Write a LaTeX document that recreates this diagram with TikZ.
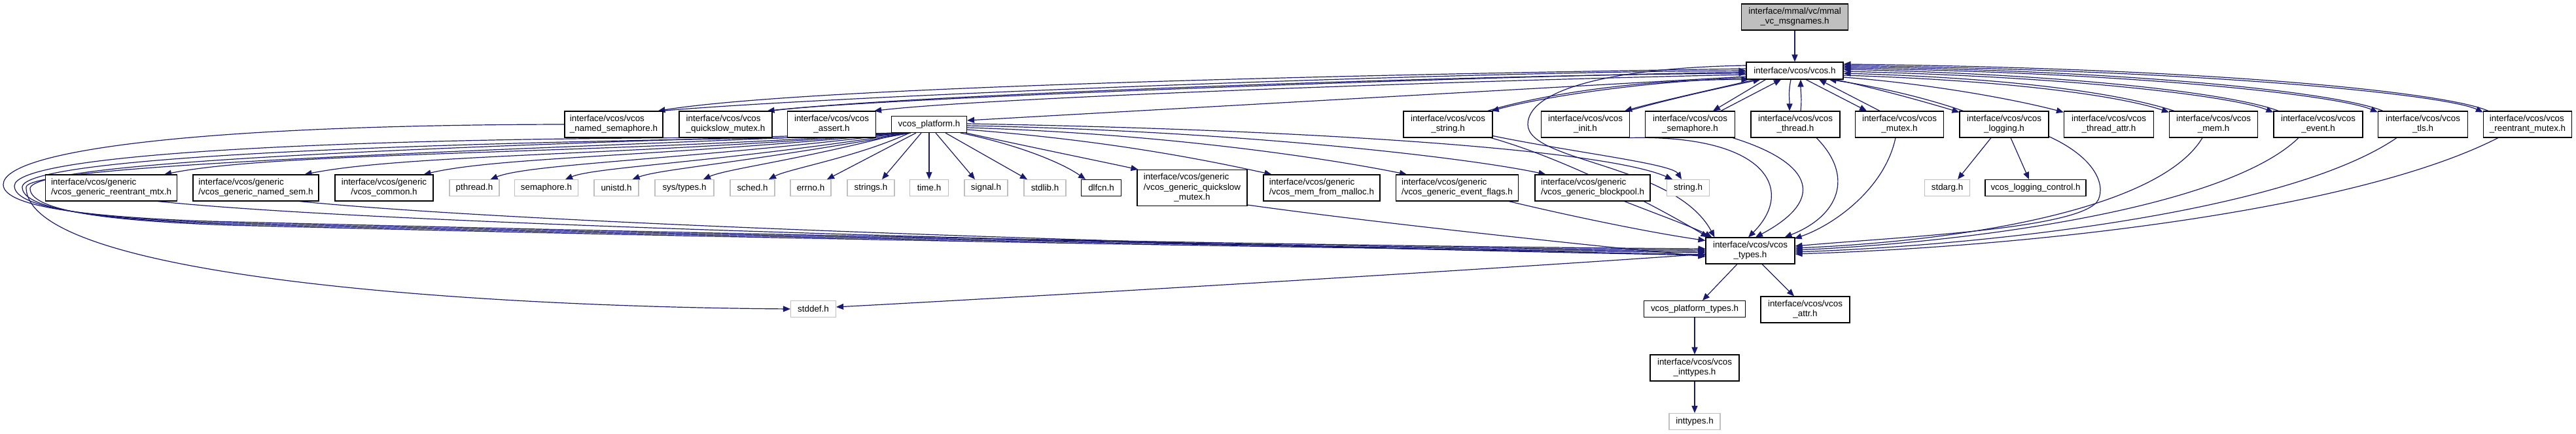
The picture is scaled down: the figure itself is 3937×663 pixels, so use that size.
\documentclass[tikz,border=0pt]{standalone}
\usepackage{fontspec}
\setmainfont{Liberation Sans}
\usetikzlibrary{arrows.meta,calc,backgrounds}
\definecolor{edgeblue}{HTML}{191970}
\definecolor{lightframe}{HTML}{BFBFBF}
\newcommand\fs{\fontsize{13.4pt}{15.3pt}\selectfont}
\newcommand\twoln[2]{\begin{tabular}{@{}l@{}}#1\\\multicolumn{1}{@{}c@{}}{#2}\end{tabular}}
\newcommand\threeln[3]{\begin{tabular}{@{}l@{}}#1\\#2\\\multicolumn{1}{@{}c@{}}{#3}\end{tabular}}
\tikzset{
  nb/.style={draw=black, line width=1.1pt, fill=white, inner sep=0pt, font=\fs, minimum height=40pt},
  one/.style={minimum height=25pt},
  gb/.style={nb, one, draw=lightframe},
  e/.style={draw=edgeblue, line width=1.2pt, -{Triangle[length=11pt,width=9pt]}},
}
\begin{document}
\begin{tikzpicture}[x=1pt,y=-1pt]
\useasboundingbox (0,0) rectangle (3937,663);
% rank 0/1
\node[nb,fill=lightframe,minimum width=163pt] (root) at (2743,26) {\twoln{interface/mmal/vc/mmal}{\_vc\_msgnames.h}};
\node[nb,minimum width=148pt,minimum height=26pt] (vcos) at (2743,108) {interface/vcos/vcos.h};
% rank 2
\node[nb,minimum width=150pt] (nsem) at (938,190) {\twoln{interface/vcos/vcos}{\_named\_semaphore.h}};
\node[nb,minimum width=142pt] (qsm) at (1109,190) {\twoln{interface/vcos/vcos}{\_quickslow\_mutex.h}};
\node[nb,minimum width=135pt] (assert) at (1271,190) {\twoln{interface/vcos/vcos}{\_assert.h}};
\node[nb,one,minimum width=115pt] (plat) at (1420,190) {vcos\_platform.h};
\node[nb,minimum width=136pt] (str) at (2213,190) {\twoln{interface/vcos/vcos}{\_string.h}};
\node[nb,minimum width=135pt] (init) at (2423,190) {\twoln{interface/vcos/vcos}{\_init.h}};
\node[nb,minimum width=137pt] (sem) at (2583,190) {\twoln{interface/vcos/vcos}{\_semaphore.h}};
\node[nb,minimum width=136pt] (thr) at (2744,190) {\twoln{interface/vcos/vcos}{\_thread.h}};
\node[nb,minimum width=135pt] (mtx) at (2903,190) {\twoln{interface/vcos/vcos}{\_mutex.h}};
\node[nb,minimum width=136pt] (log) at (3063,190) {\twoln{interface/vcos/vcos}{\_logging.h}};
\node[nb,minimum width=137pt] (tattr) at (3223,190) {\twoln{interface/vcos/vcos}{\_thread\_attr.h}};
\node[nb,minimum width=135pt] (mem) at (3383,190) {\twoln{interface/vcos/vcos}{\_mem.h}};
\node[nb,minimum width=136pt] (evt) at (3543,190) {\twoln{interface/vcos/vcos}{\_event.h}};
\node[nb,minimum width=137pt] (tls) at (3703,190) {\twoln{interface/vcos/vcos}{\_tls.h}};
\node[nb,minimum width=135pt] (rmtx) at (3863,190) {\twoln{interface/vcos/vcos}{\_reentrant\_mutex.h}};
% rank 3
\node[nb,minimum width=201pt] (grm) at (170,287) {\twoln{interface/vcos/generic}{/vcos\_generic\_reentrant\_mtx.h}};
\node[nb,minimum width=192pt] (gns) at (391,287) {\twoln{interface/vcos/generic}{/vcos\_generic\_named\_sem.h}};
\node[nb,minimum width=150pt] (gcom) at (587,287) {\twoln{interface/vcos/generic}{/vcos\_common.h}};
\node[gb,minimum width=76pt] (pthread) at (725,287) {pthread.h};
\node[gb,minimum width=97pt] (semh) at (835,287) {semaphore.h};
\node[gb,minimum width=68pt] (unistd) at (942,287) {unistd.h};
\node[gb,minimum width=90pt] (systypes) at (1046,287) {sys/types.h};
\node[gb,minimum width=68pt] (sched) at (1150,287) {sched.h};
\node[gb,minimum width=62pt] (errno) at (1239,287) {errno.h};
\node[gb,minimum width=72pt] (strings) at (1331,287) {strings.h};
\node[gb,minimum width=59pt] (time) at (1420,287) {time.h};
\node[gb,minimum width=66pt] (signal) at (1507,287) {signal.h};
\node[gb,minimum width=64pt] (stdlib) at (1597,287) {stdlib.h};
\node[nb,one,minimum width=61pt] (dlfcn) at (1683,287) {dlfcn.h};
\node[nb,minimum width=168pt,minimum height=55pt] (gqs) at (1822,287) {\threeln{interface/vcos/generic}{/vcos\_generic\_quickslow}{\_mutex.h}};
\node[nb,minimum width=178pt] (gmm) at (2020,287) {\twoln{interface/vcos/generic}{/vcos\_mem\_from\_malloc.h}};
\node[nb,minimum width=187pt] (gef) at (2227,287) {\twoln{interface/vcos/generic}{/vcos\_generic\_event\_flags.h}};
\node[nb,minimum width=176pt] (gbp) at (2434,287) {\twoln{interface/vcos/generic}{/vcos\_generic\_blockpool.h}};
\node[gb,minimum width=65pt] (strh) at (2580,287) {string.h};
\node[gb,minimum width=69pt] (stdarg) at (2976,287) {stdarg.h};
\node[nb,one,minimum width=154pt] (logctl) at (3111,287) {vcos\_logging\_control.h};
% rank 4+
\node[nb,minimum width=136pt] (types) at (2675,383) {\twoln{interface/vcos/vcos}{\_types.h}};
\node[gb,minimum width=69pt] (stddef) at (1243,472) {stddef.h};
\node[nb,one,minimum width=155pt] (ptypes) at (2590,472) {vcos\_platform\_types.h};
\node[nb,minimum width=136pt] (attr) at (2759,473) {\twoln{interface/vcos/vcos}{\_attr.h}};
\node[nb,minimum width=136pt] (vint) at (2590,562) {\twoln{interface/vcos/vcos}{\_inttypes.h}};
\node[gb,minimum width=78pt] (inth) at (2590,644) {inttypes.h};

\begin{scope}[on background layer]
\draw[e] (root) -- (vcos);
% vcos <-> left rank 2
\draw[e] ($(vcos.west)+(0,-3)$) .. controls (2200,112) and (1250,130) .. ($(nsem.north east)+(-8,0)$);
\draw[e] ($(nsem.north east)+(-3,0)$) .. controls (1250,148) and (2200,110) .. ($(vcos.west)+(0,0)$);
\draw[e] ($(vcos.west)+(0,2)$) .. controls (2200,118) and (1350,150) .. ($(qsm.north east)+(-8,0)$);
\draw[e] ($(qsm.north east)+(-3,0)$) .. controls (1350,147) and (2200,115) .. ($(vcos.west)+(0,4)$);
\draw[e] ($(vcos.west)+(0,6)$) .. controls (2200,124) and (1500,150) .. ($(assert.north east)+(-3,0)$);
\draw[e] ($(vcos.west)+(0,9)$) -- ($(plat.east)+(0,-6)$);
% vcos <-> middle rank 2
\draw[e] ($(vcos.west)+(0,11)$) .. controls (2500,125) and (2350,150) .. ($(str.north east)+(-2,0)$);
\draw[e] ($(str.north east)+(-8,0)$) .. controls (2350,146) and (2500,121) .. ($(vcos.south west)+(4,0)$);
\draw[e] ($(vcos.south west)+(14,0)$) .. controls (2620,136) and (2530,156) .. ($(init.north east)+(-8,0)$);
\draw[e] ($(init.north east)+(-2,0)$) .. controls (2540,154) and (2630,134) .. ($(vcos.south west)+(22,0)$);
\draw[e] ($(vcos.south west)+(30,0)$) -- ($(sem.north)+(35,0)$);
\draw[e] ($(sem.north)+(47,0)$) -- ($(vcos.south)+(-21,0)$);
\draw[e] ($(vcos.south)+(-6,0)$) .. controls +(-4,20) and +(0,-20) .. ($(thr.north)+(-9,0)$);
\draw[e] ($(thr.north)+(8,0)$) .. controls +(2,-20) and +(0,20) .. ($(vcos.south)+(9,0)$);
\draw[e] ($(vcos.south)+(17,0)$) -- ($(mtx.north)+(-50,0)$);
\draw[e] ($(mtx.north)+(-30,0)$) -- ($(vcos.south)+(37,0)$);
\draw[e] ($(vcos.south east)+(-12,0)$) .. controls (2880,138) and (2950,158) .. ($(log.north west)+(0,2)$);
\draw[e] ($(log.north west)+(6,0)$) .. controls (2950,152) and (2880,134) .. ($(vcos.south east)+(-22,0)$);
% vcos <-> right rank 2
\draw[e] ($(vcos.east)+(0,10)$) .. controls (2950,128) and (3080,152) .. ($(tattr.north west)+(0,2)$);
\draw[e] ($(vcos.east)+(0,7)$) .. controls (3100,124) and (3250,150) .. ($(mem.north west)+(0,2)$);
\draw[e] ($(mem.north west)+(8,0)$) .. controls (3250,146) and (3100,120) .. ($(vcos.east)+(0,4)$);
\draw[e] ($(vcos.east)+(0,1)$) .. controls (3200,118) and (3420,150) .. ($(evt.north west)+(0,2)$);
\draw[e] ($(evt.north west)+(8,0)$) .. controls (3420,146) and (3200,115) .. ($(vcos.east)+(0,-2)$);
\draw[e] ($(vcos.east)+(0,-4)$) .. controls (3300,112) and (3580,148) .. ($(tls.north west)+(0,2)$);
\draw[e] ($(tls.north west)+(8,0)$) .. controls (3580,144) and (3300,109) .. ($(vcos.east)+(0,-6)$);
\draw[e] ($(vcos.east)+(0,-8)$) .. controls (3400,108) and (3740,146) .. ($(rmtx.north west)+(0,2)$);
\draw[e] ($(rmtx.north west)+(8,0)$) .. controls (3740,142) and (3400,105) .. ($(vcos.east)+(0,-10)$);
% edges into vcos_types from above / right
\draw[e] ($(vcos.west)+(0,-8)$) .. controls (2450,104) and (2335,140) .. (2335,190) .. controls (2335,248) and (2560,250) .. ($(types.north west)+(14,0)$);
\draw[e] ($(str.south east)+(-3,0)$) .. controls (2400,245) and (2540,320) .. ($(types.north west)+(4,0)$);
\draw[e] ($(str.south east)+(0,-3)$) .. controls (2400,232) and (2555,250) .. ($(strh.north)+(-10,0)$);
\draw[e] ($(init.south east)+(-3,0)$) .. controls (2700,205) and (2745,290) .. ($(types.north)+(-3,0)$);
\draw[e] ($(sem.south east)+(-4,0)$) .. controls (2760,245) and (2800,300) .. ($(types.north)+(8,0)$);
\draw[e] ($(thr.south)+(32,0)$) .. controls (2835,270) and (2810,330) .. ($(types.north east)+(-16,0)$);
\draw[e] ($(mtx.south)+(-6,0)$) .. controls (2880,290) and (2800,345) .. ($(types.north east)+(-1,2)$);
\draw[e] ($(log.south east)+(0,-2)$) .. controls (3200,240) and (3218,280) .. (3207,305) .. controls (3185,350) and (2900,362) .. ($(types.east)+(0,-7)$);
\draw[e] ($(mem.south)+(-17,0)$) .. controls (3300,320) and (3000,368) .. ($(types.east)+(0,-4)$);
\draw[e] ($(evt.south)+(-30,0)$) .. controls (3400,320) and (3000,371) .. ($(types.east)+(0,-1)$);
\draw[e] ($(tls.south)+(-40,0)$) .. controls (3500,322) and (3050,374) .. ($(types.east)+(0,2)$);
\draw[e] ($(rmtx.south)+(-45,0)$) .. controls (3600,322) and (3100,377) .. ($(types.east)+(0,5)$);
% loops round the left into vcos_types and stddef
\draw[e] (nsem.west) .. controls (300,191) and (5,230) .. (5,282) .. controls (5,318) and (150,332) .. (320,338) .. controls (1200,360) and (2100,377) .. ($(types.west)+(0,-3)$);
\draw[e] ($(qsm.south west)+(2,0)$) .. controls (500,213) and (22,236) .. (22,284) .. controls (22,320) and (160,334) .. (330,340) .. controls (1200,362) and (2100,378) .. ($(types.west)+(0,-1)$);
\draw[e] ($(assert.south west)+(2,0)$) .. controls (600,219) and (34,241) .. (34,286) .. controls (34,322) and (170,336) .. (340,342) .. controls (1200,364) and (2100,379) .. ($(types.west)+(0,1)$);
\draw[e] ($(plat.south west)+(3,0)$) .. controls (700,223) and (46,246) .. (46,288) .. controls (46,324) and (180,338) .. (350,344) .. controls (1200,366) and (2100,380) .. ($(types.west)+(0,3)$);
\draw[e] ($(plat.south west)+(8,0)$) .. controls (800,229) and (40,250) .. (40,286) .. controls (40,420) and (700,468) .. (stddef.west);
% generic headers into vcos_types
\draw[e] ($(grm.south east)+(-30,0)$) .. controls (600,345) and (1800,374) .. ($(types.west)+(0,6)$);
\draw[e] ($(gns.south east)+(-30,0)$) .. controls (800,342) and (1800,375) .. ($(types.west)+(0,7)$);
\draw[e] ($(gqs.south east)+(0,-2)$) .. controls (2100,340) and (2400,372) .. ($(types.west)+(0,9)$);
\draw[e] ($(gef.south east)+(-15,0)$) .. controls (2400,330) and (2520,355) .. ($(types.north west)+(0,5)$);
\draw[e] ($(gbp.south east)+(-40,0)$) .. controls (2540,330) and (2590,348) .. ($(types.north west)+(10,0)$);
% vcos_platform.h fan-out
\draw[e] ($(plat.south west)+(12,0)$) .. controls (900,236) and (420,232) .. ($(grm.north east)+(-20,0)$);
\draw[e] ($(plat.south west)+(15,0)$) .. controls (950,238) and (620,236) .. ($(gns.north east)+(-22,0)$);
\draw[e] ($(plat.south west)+(18,0)$) .. controls (1000,240) and (760,240) .. ($(gcom.north east)+(-15,0)$);
\draw[e] ($(plat.south west)+(22,0)$) .. controls (1050,244) and (810,250) .. ($(pthread.north east)+(-14,0)$);
\draw[e] ($(plat.south west)+(26,0)$) .. controls (1100,248) and (910,255) .. ($(semh.north east)+(-20,0)$);
\draw[e] ($(plat.south west)+(30,0)$) .. controls (1130,250) and (1010,258) .. ($(unistd.north east)+(-10,0)$);
\draw[e] ($(plat.south)+(-40,0)$) .. controls (1220,245) and (1110,258) .. ($(systypes.north)+(29,0)$);
\draw[e] ($(plat.south)+(-30,0)$) .. controls (1310,240) and (1205,258) .. ($(sched.north)+(25,0)$);
\draw[e] ($(plat.south)+(-20,0)$) -- ($(errno.north)+(25,0)$);
\draw[e] ($(plat.south)+(-12,0)$) -- ($(strings.north)+(17,0)$);
\draw[e] (plat.south) -- (time.north);
\draw[e] ($(plat.south)+(10,0)$) -- ($(signal.north)+(-17,0)$);
\draw[e] ($(plat.south)+(25,0)$) -- ($(stdlib.north)+(-27,0)$);
\draw[e] ($(plat.south east)+(-10,0)$) .. controls (1560,222) and (1625,250) .. ($(dlfcn.north)+(-24,0)$);
\draw[e] ($(plat.south east)+(-2,0)$) .. controls (1600,230) and (1680,246) .. ($(gqs.north west)+(2,0)$);
\draw[e] ($(plat.east)+(0,8)$) .. controls (1700,215) and (1850,246) .. ($(gmm.north west)+(13,0)$);
\draw[e] ($(plat.east)+(0,5)$) .. controls (1800,205) and (2050,246) .. ($(gef.north west)+(17,0)$);
\draw[e] ($(plat.east)+(0,2)$) .. controls (1900,200) and (2250,242) .. ($(gbp.north west)+(17,0)$);
\draw[e] ($(plat.east)+(0,-1)$) .. controls (2000,198) and (2450,228) .. ($(strh.north)+(-24,0)$);
% logging
\draw[e] ($(log.south)+(-20,0)$) -- ($(stdarg.north)+(16,0)$);
\draw[e] ($(log.south)+(10,0)$) -- ($(logctl.north)+(-10,0)$);
% lower part
\draw[e] ($(types.south)+(-20,0)$) -- ($(ptypes.north)+(12,0)$);
\draw[e] ($(types.south)+(18,0)$) -- ($(attr.north)+(-17,0)$);
\draw[e] ($(types.west)+(0,5)$) .. controls (2300,410) and (1600,452) .. ($(stddef.east)+(0,-3)$);
\draw[e] (ptypes) -- (vint);
\draw[e] (vint) -- (inth);
\end{scope}
\end{tikzpicture}
\end{document}
